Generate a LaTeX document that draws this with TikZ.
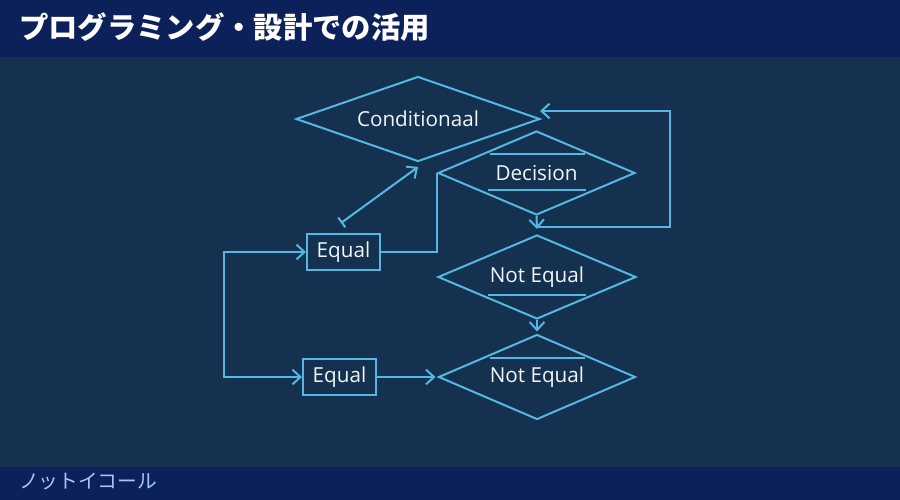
\documentclass[tikz,border=0pt]{standalone}
\usepackage{fontspec}
\setmainfont{Open Sans}
\newfontfamily\jpfont{Noto Sans CJK JP}
\usetikzlibrary{shapes.geometric,arrows.meta,calc}
\definecolor{hdr}{HTML}{0C205A}
\definecolor{bodybg}{HTML}{14314F}
\definecolor{ln}{HTML}{55B8E2}
\definecolor{txt}{HTML}{F2F6FA}
\definecolor{foot}{HTML}{A9C6EE}
\tikzset{
  conn/.style={draw=ln, line width=1.5pt, line join=miter},
  tip/.tip={Straight Barb[length=6pt,width=11pt,line width=1.5pt]},
  dia/.style={diamond, draw=ln, line width=1.5pt, aspect=2.9, inner sep=0pt, text=txt,
    font=\fontsize{15.5pt}{18pt}\selectfont},
  boxn/.style={rectangle, draw=ln, line width=1.5pt, inner sep=0pt, text=txt,
    font=\fontsize{15.5pt}{18pt}\selectfont},
  bar/.style={draw=ln, line width=1.4pt}
}
\begin{document}
\begin{tikzpicture}[x=0.75pt,y=-0.75pt]
\useasboundingbox (0,0) rectangle (900,500);
\fill[bodybg] (0,0) rectangle (900,500);
\fill[hdr] (0,0) rectangle (900,57);
\fill[hdr] (0,467) rectangle (900,500);
\node[anchor=west, text=white, inner sep=0pt, font=\jpfont\bfseries\fontsize{22pt}{26pt}\selectfont] (title) at (19,27) {プログラミング・設計での活用};
\node[anchor=west, text=foot, inner sep=0pt, font=\jpfont\fontsize{14.8pt}{17pt}\selectfont] (footer) at (19,482) {ノットイコール};

% diamonds
\node[dia, minimum width=183pt, minimum height=63.75pt] (cond) at (418,119) {Conditionaal};
\node[dia, minimum width=147.75pt, minimum height=63pt] (dec) at (536.5,173) {Decision};
\node[dia, minimum width=148.5pt, minimum height=63pt] (ne1) at (537,277) {Not Equal};
\node[dia, minimum width=147.75pt, minimum height=63.75pt] (ne2) at (537,377) {Not Equal};
% boxes
\node[boxn, minimum width=54.75pt, minimum height=27pt] (e1) at (343.5,252) {Equal};
\node[boxn, minimum width=54.75pt, minimum height=27pt] (e2) at (339.5,377) {Equal};

% over/underlines
\draw[bar] ($(dec.center)+(-46.5,-19)$) -- ($(dec.center)+(48.5,-19)$);
\draw[bar] ($(dec.center)+(-48.5,17)$) -- ($(dec.center)+(49.5,17)$);
\draw[bar] ($(ne1.center)+(-49,18)$) -- ($(ne1.center)+(49,18)$);
\draw[bar] ($(ne2.center)+(-47,-19)$) -- ($(ne2.center)+(48,-19)$);

% coordinates
\coordinate (decout) at (537,229);
\coordinate (loopstart) at (537,227);
\coordinate (loopr) at (670,227);
\coordinate (loopend) at (540,111);
\coordinate (barend) at (341,223);
\coordinate (condtip) at (418,167);

% connectors
\draw[conn,-tip] (dec.south) -- (decout);
\draw[conn,-tip] (loopstart) -- (loopr) |- (loopend);
\draw[conn,-tip,shorten >=1.5pt] (ne1.south) -- (ne2.north);
\draw[conn] (e1.east) -| (dec.west);
\draw[conn,{Bar[width=9pt,line width=1.5pt]}-tip] (barend) -- (condtip);
\draw[conn,tip-tip] (e1.west) -- ++(-82,0) |- (e2.west);
\draw[conn,-tip,shorten >=1.5pt] (e2.east) -- (ne2.west);
\end{tikzpicture}
\end{document}
